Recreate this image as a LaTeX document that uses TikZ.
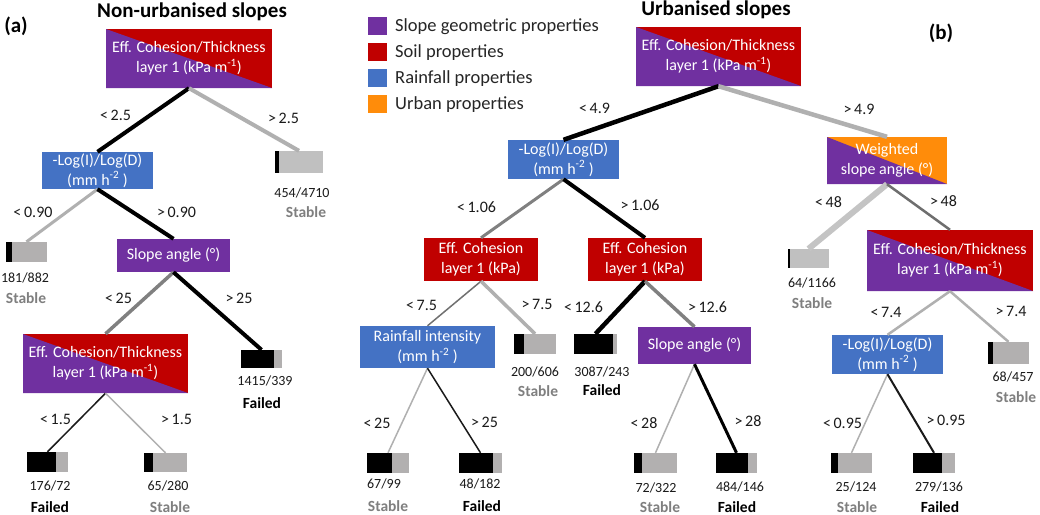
\documentclass[tikz,border=0pt]{standalone}
\usepackage{fontspec}
\setmainfont{Carlito}
\definecolor{geopurple}{RGB}{112,48,160}
\definecolor{soilred}{RGB}{192,0,0}
\definecolor{rainblue}{RGB}{68,114,196}
\definecolor{urbanorange}{RGB}{255,140,10}
\definecolor{leafgray}{RGB}{178,176,176}
\definecolor{leaflight}{RGB}{192,192,192}
\definecolor{lightedge}{RGB}{176,176,176}
\definecolor{midedge}{RGB}{128,128,128}
\definecolor{stablegray}{RGB}{127,127,127}
\definecolor{txt}{RGB}{26,26,26}
\tikzset{
  box/.style={rectangle, inner sep=0pt, text=white, font=\fontsize{16}{20}\selectfont, align=center},
  split/.style 2 args={fill=#2, path picture={\fill[#1] (path picture bounding box.north west) -- (path picture bounding box.south west) -- (path picture bounding box.south east) -- cycle;}},
  leafbar/.style={rectangle, inner sep=0pt, fill=leafgray, path picture={\fill[black] (path picture bounding box.south west) rectangle ([xshift=#1]path picture bounding box.north west);}},
  lab/.style={font=\fontsize{16}{19}\selectfont, text=txt, inner sep=0pt, text height=10.2pt, text depth=0pt},
  cnt/.style={font=\fontsize{14}{16}\selectfont, text=txt, inner sep=0pt, text height=9pt, text depth=0pt},
  stab/.style={font=\bfseries\fontsize{15.5}{18}\selectfont, text=stablegray, inner sep=0pt, text height=10pt, text depth=0pt},
  fail/.style={font=\bfseries\fontsize{15.5}{18}\selectfont, text=black, inner sep=0pt, text height=10pt, text depth=0pt},
  ttl/.style={font=\bfseries\fontsize{21}{24}\selectfont, text=black, inner sep=0pt, text height=13.5pt, text depth=0pt},
  legsq/.style={rectangle, inner sep=0pt, minimum width=19pt, minimum height=18pt},
  legtxt/.style={font=\fontsize{18.5}{22}\selectfont, text={rgb,255:red,38;green,38;blue,38}, inner sep=0pt, anchor=west, text height=11.8pt, text depth=0pt},
  eblack/.style={draw=black, line width=#1},
  elight/.style={draw=lightedge, line width=#1},
  emid/.style={draw=midedge, line width=#1}
}
\begin{document}
\begin{tikzpicture}[x=1pt,y=-1pt]
\useasboundingbox (0,0) rectangle (1040,514);
\fill[white] (0,0) rectangle (1040,514);

% titles
\node[ttl] (ta) at (192,11) {Non-urbanised slopes};
\node[ttl] (tb) at (716,8.5) {Urbanised slopes};
\node[ttl] (pa) at (16,26) {(a)};
\node[ttl] (pb) at (941,33) {(b)};

% legend
\node[legsq, fill=geopurple] (lg1) at (377.5,25.5) {};
\node[legsq, fill=soilred] (lg2) at (377.5,51.5) {};
\node[legsq, fill=rainblue] (lg3) at (377.5,77.5) {};
\node[legsq, fill=urbanorange] (lg4) at (377.5,103.5) {};
\node[legtxt] (lt1) at (395,25.5) {Slope geometric properties};
\node[legtxt] (lt2) at (395,51.5) {Soil properties};
\node[legtxt] (lt3) at (395,77.5) {Rainfall properties};
\node[legtxt] (lt4) at (395,103.5) {Urban properties};

% ---------- tree (a) ----------
\node[box, split={geopurple}{soilred}, minimum width=166pt, minimum height=59pt] (a1) at (189,58.5) {Eff. Cohesion/Thickness\\layer 1 (kPa m\textsuperscript{-1})};
\node[box, fill=rainblue, minimum width=111pt, minimum height=37pt] (a2) at (97.5,170.5) {-Log(I)/Log(D)\\(mm h\textsuperscript{-2} )};
\node[box, fill=geopurple, minimum width=113pt, minimum height=33pt] (a3) at (173.5,255.5) {Slope angle (°)};
\node[box, split={geopurple}{soilred}, minimum width=165pt, minimum height=59pt] (a4) at (105.5,363.5) {Eff. Cohesion/Thickness\\layer 1 (kPa m\textsuperscript{-1})};

\node[leafbar=4pt, fill=leaflight, minimum width=48pt, minimum height=22pt] (L1) at (299,162) {};
\node[leafbar=6pt, minimum width=41pt, minimum height=20pt] (L2) at (26.5,252) {};
\node[leafbar=33pt, minimum width=41pt, minimum height=18pt] (L3) at (261.5,359) {};
\node[leafbar=29pt, minimum width=41pt, minimum height=20pt] (L4) at (47.5,462) {};
\node[leafbar=9pt, minimum width=43pt, minimum height=19pt] (L5) at (165.5,462.5) {};

\draw[eblack=4pt] (a1.south) -- (a2.north);
\draw[elight=4pt] (a1.south) -- (L1.north);
\draw[elight=3pt] (a2.south) -- (L2.north);
\draw[eblack=4pt] (a2.south) -- (a3.north);
\draw[emid=3.5pt] (a3.south) -- (a4.north);
\draw[eblack=4pt] (a3.south) -- (L3.north);
\draw[eblack=1.5pt, draw=txt] (a4.south) -- (L4.north);
\draw[elight=1.5pt] (a4.south) -- (L5.north);

\node[lab] (ea1) at (115.5,115) {<\,2.5};
\node[lab] (ea2) at (283.5,118) {>\,2.5};
\node[lab] (ea3) at (33,212) {<\,0.90};
\node[lab] (ea4) at (176.5,212) {>\,0.90};
\node[lab] (ea5) at (118.5,298) {<\,25};
\node[lab] (ea6) at (239,298) {>\,25};
\node[lab] (ea7) at (55.5,419) {<\,1.5};
\node[lab] (ea8) at (176.5,419) {>\,1.5};

\node[cnt] (ca1) at (302,193) {454/4710};
\node[stab] (sa1) at (306,212) {Stable};
\node[cnt] (ca2) at (25,278) {181/882};
\node[stab] (sa2) at (26,298) {Stable};
\node[cnt] (ca3) at (265,381) {1415/339};
\node[fail] (sa3) at (262,403) {Failed};
\node[cnt] (ca4) at (50,486) {176/72};
\node[fail] (sa4) at (50,507) {Failed};
\node[cnt] (ca5) at (168,486) {65/280};
\node[stab] (sa5) at (170,507) {Stable};

% ---------- tree (b) ----------
\node[box, split={geopurple}{soilred}, minimum width=165pt, minimum height=59pt] (b1) at (718.5,56.5) {Eff. Cohesion/Thickness\\layer 1 (kPa m\textsuperscript{-1})};
\node[box, fill=rainblue, minimum width=111pt, minimum height=39pt] (b2) at (563.5,159.5) {-Log(I)/Log(D)\\(mm h\textsuperscript{-2} )};
\node[box, fill=soilred, minimum width=114pt, minimum height=43pt] (b3) at (481,259.5) {Eff. Cohesion\\layer 1 (kPa)};
\node[box, fill=soilred, minimum width=114pt, minimum height=43pt] (b4) at (645,259.5) {Eff. Cohesion\\layer 1 (kPa)};
\node[box, fill=rainblue, minimum width=135pt, minimum height=42pt] (b5) at (427.5,347) {Rainfall intensity\\(mm h\textsuperscript{-2} )};
\node[box, fill=geopurple, minimum width=113pt, minimum height=37pt] (b6) at (694.5,345.5) {Slope angle (°)};
\node[box, split={geopurple}{urbanorange}, minimum width=120pt, minimum height=47pt] (c1) at (887,160.5) {Weighted\\slope angle (°)};
\node[box, split={geopurple}{soilred}, minimum width=166pt, minimum height=61pt] (c2) at (950,260.5) {Eff. Cohesion/Thickness\\layer 1 (kPa m\textsuperscript{-1})};
\node[box, fill=rainblue, minimum width=111pt, minimum height=39pt] (c3) at (887.5,354.5) {-Log(I)/Log(D)\\(mm h\textsuperscript{-2} )};

\node[leafbar=10pt, minimum width=42pt, minimum height=20pt] (M1) at (535,344) {};
\node[leafbar=39pt, minimum width=43pt, minimum height=20pt] (M2) at (595.5,344) {};
\node[leafbar=25pt, minimum width=42pt, minimum height=20pt] (M3) at (388,463) {};
\node[leafbar=34pt, minimum width=43pt, minimum height=20pt] (M4) at (480.5,463) {};
\node[leafbar=8pt, minimum width=43pt, minimum height=20pt] (M5) at (655.5,463) {};
\node[leafbar=32pt, minimum width=41pt, minimum height=20pt] (M6) at (736.5,463) {};
\node[leafbar=2pt, fill=leaflight, minimum width=41pt, minimum height=19pt] (R1) at (808.5,258.5) {};
\node[leafbar=5pt, minimum width=41pt, minimum height=22pt] (R2) at (1008.5,353) {};
\node[leafbar=7pt, minimum width=41pt, minimum height=20pt] (R3) at (851.5,463) {};
\node[leafbar=29pt, minimum width=42pt, minimum height=20pt] (R4) at (934,463) {};

\draw[eblack=4.5pt] (b1.south) -- (b2.north);
\draw[elight=4.5pt] (b1.south) -- (c1.north);
\draw[emid=3pt] (b2.south) -- (b3.north);
\draw[eblack=4pt] (b2.south) -- (b4.north);
\draw[emid=1.5pt, draw={rgb,255:red,112;green,112;blue,112}] (b3.south) -- (b5.north);
\draw[elight=3.5pt] (b3.south) -- (M1.north);
\draw[eblack=4.5pt] (b4.south) -- (M2.north);
\draw[emid=3.5pt] (b4.south) -- (b6.north);
\draw[elight=1.5pt] (b5.south) -- (M3.north);
\draw[eblack=1.5pt, draw=txt] (b5.south) -- (M4.north);
\draw[elight=1.5pt] (b6.south) -- (M5.north);
\draw[eblack=3pt] (b6.south) -- (M6.north);
\draw[elight=6pt, draw={rgb,255:red,196;green,196;blue,196}] (c1.south) -- (R1.north);
\draw[emid=2.5pt, draw={rgb,255:red,110;green,110;blue,110}] (c1.south) -- (c2.north);
\draw[elight=2.5pt] (c2.south) -- (c3.north);
\draw[elight=2.5pt] (c2.south) -- (R2.north);
\draw[elight=1.5pt] (c3.south) -- (R3.north);
\draw[eblack=2pt, draw=txt] (c3.south) -- (R4.north);

\node[lab] (eb1) at (594.5,108) {<\,4.9};
\node[lab] (eb2) at (859,109) {>\,4.9};
\node[lab] (eb3) at (476.5,207) {<\,1.06};
\node[lab] (eb4) at (640,205) {>\,1.06};
\node[lab] (eb5) at (421.5,305) {<\,7.5};
\node[lab] (eb6) at (537,304) {>\,7.5};
\node[lab] (eb7) at (583.5,307) {<\,12.6};
\node[lab] (eb8) at (707.5,307) {>\,12.6};
\node[lab] (eb9) at (377,423) {<\,25};
\node[lab] (eb10) at (484.5,422) {>\,25};
\node[lab] (eb11) at (644,423) {<\,28};
\node[lab] (eb12) at (748,421) {>\,28};
\node[lab] (ec1) at (828.5,202) {<\,48};
\node[lab] (ec2) at (943.5,201) {>\,48};
\node[lab] (ec3) at (886,312) {<\,7.4};
\node[lab] (ec4) at (1011,311) {>\,7.4};
\node[lab] (ec5) at (842.5,423) {<\,0.95};
\node[lab] (ec6) at (946,420) {>\,0.95};

\node[cnt] (cb1) at (535,372) {200/606};
\node[stab] (sb1) at (538,391) {Stable};
\node[cnt] (cb2) at (602,372) {3087/243};
\node[fail] (sb2) at (602,390) {Failed};
\node[cnt] (cb3) at (384,484) {67/99};
\node[stab] (sb3) at (388,506) {Stable};
\node[cnt] (cb4) at (480,484) {48/182};
\node[fail] (sb4) at (482,506) {Failed};
\node[cnt] (cb5) at (656,488) {72/322};
\node[stab] (sb5) at (660,507) {Stable};
\node[cnt] (cb6) at (740,487) {484/146};
\node[fail] (sb6) at (737,507) {Failed};
\node[cnt] (cc1) at (812,283) {64/1166};
\node[stab] (sc1) at (812,303) {Stable};
\node[cnt] (cc2) at (1013,377) {68/457};
\node[stab] (sc2) at (1016,397) {Stable};
\node[cnt] (cc3) at (856,487) {25/124};
\node[stab] (sc3) at (857,507) {Stable};
\node[cnt] (cc4) at (939,487) {279/136};
\node[fail] (sc4) at (940,507) {Failed};
\end{tikzpicture}
\end{document}
